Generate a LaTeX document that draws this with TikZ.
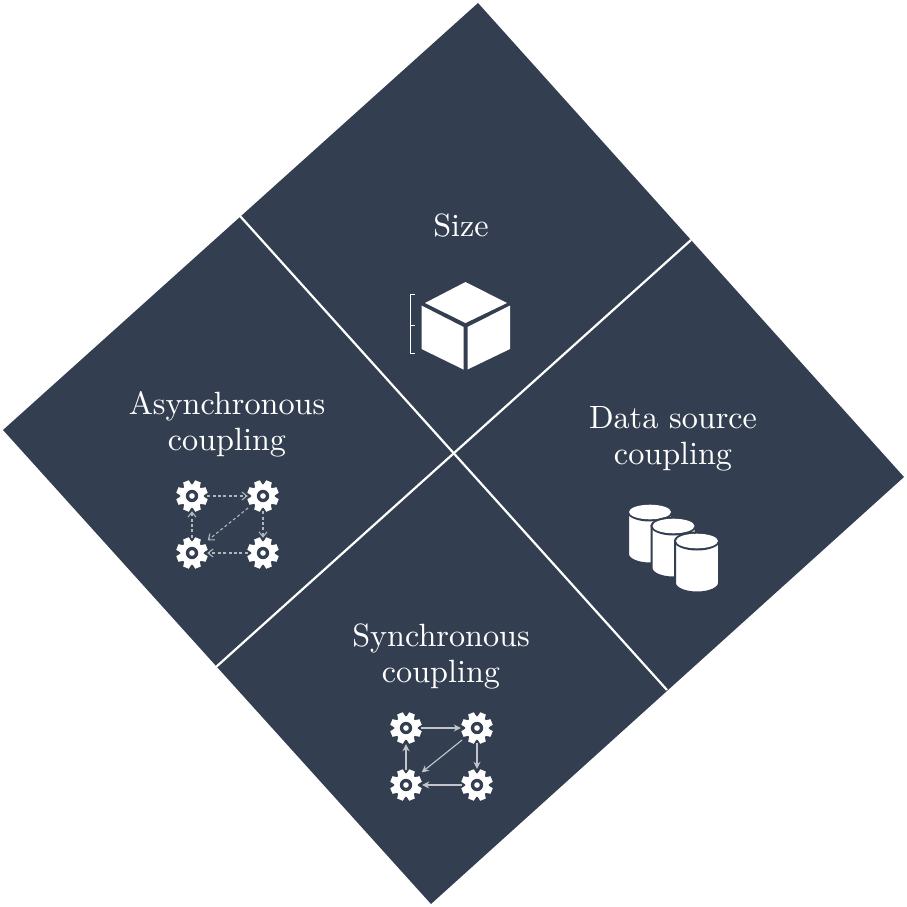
\documentclass[tikz,border=0pt]{standalone}
\usetikzlibrary{arrows.meta}
\definecolor{navy}{HTML}{333F50}
\font\lblfont="[lmroman10-regular]" at 32.2pt
\newcommand{\lblstyle}{\lblfont\setlength{\baselineskip}{36pt}}
\tikzset{x=1pt,y=-1pt,
 panel/.style={fill=navy,draw=none},
 divider/.style={draw=white,line width=2.2pt},
 label/.style={text=white,align=center,font=\lblstyle,inner sep=0pt},
 icon/.style={fill=white,draw=none},
 syncarrow/.style={draw=white!70!navy,line width=1.4pt,-{Stealth[length=7pt,width=7pt]},shorten >=1pt},
 asyncarrow/.style={draw=white!62!navy,line width=1.1pt,dash pattern=on 3pt off 2.4pt,-{Straight Barb[length=5pt,width=8pt]}},
 diagonal/.style={shorten <=4pt,shorten >=5pt},
 gearnode/.style={circle,minimum size=30pt,inner sep=0pt,draw=none},
}
\newcommand{\gearat}[2]{%
 \begin{scope}[shift={(#1,#2)}]
  \fill[white] (0,0) circle (11.8);
  \foreach \a in {0,45,...,315}{\fill[white,rotate=\a+22.5] (-4,-10) -- (-3,-15.8) -- (3,-15.8) -- (4,-10) -- cycle;}
  \fill[navy] (0,0) circle (6.2);
  \fill[white] (0,0) circle (2.8);
 \end{scope}}
\newcommand{\drum}[2]{%
 \begin{scope}[shift={(#1,#2)}]
  \filldraw[white,draw=navy,line width=2pt] (-22,0) -- (-22,42) arc[start angle=180,end angle=0,x radius=22,y radius=9.5] -- (22,0) -- cycle;
  \fill[navy] (0,0) ellipse (23 and 9.5);
  \fill[white] (0,0) ellipse (21 and 7.3);
 \end{scope}}
\begin{document}
\begin{tikzpicture}
\useasboundingbox (0,0) rectangle (907,907);
\coordinate (T) at (478,3);
\coordinate (R) at (904,477);
\coordinate (B) at (431,904);
\coordinate (L) at (3,430);
\coordinate (C) at (453,453);
\coordinate (TL) at (240,216);
\coordinate (TR) at (691,240);
\coordinate (BL) at (216,667);
\coordinate (BR) at (667,690);
\fill[panel] (T) -- (R) -- (B) -- (L) -- cycle;
\draw[divider] (TL) -- (BR);
\draw[divider] (BL) -- (TR);
\node[label] (size) at (461,226) {Size};
\node[label] (async) at (227,424) {Asynchronous\\coupling};
\node[label] (data) at (673,438.5) {Data source\\coupling};
\node[label] (sync) at (441,656) {Synchronous\\coupling};
% cube
\fill[icon] (465.5,282) -- (507,303) -- (465.5,323) -- (425,303) -- cycle;
\fill[icon] (421.5,305.5) -- (463.5,327) -- (463.5,369.5) -- (421.5,349) -- cycle;
\fill[icon] (467.5,327) -- (510,305.5) -- (510,349) -- (467.5,369.5) -- cycle;
\draw[white,line width=1pt] (415,294) -- (410,294) -- (410,353) -- (415,353) (410,325) -- (415,325);
% drums
\drum{650}{512}
\drum{673.5}{526}
\drum{697}{541}
% async gears
\gearat{192}{496}\gearat{263}{496}\gearat{192}{553}\gearat{263}{553}
\node[gearnode] (a1) at (192,496) {};
\node[gearnode] (a2) at (263,496) {};
\node[gearnode] (a3) at (192,553) {};
\node[gearnode] (a4) at (263,553) {};
\draw[asyncarrow] (a1) -- (a2);
\draw[asyncarrow] (a2) -- (a4);
\draw[asyncarrow] (a4) -- (a3);
\draw[asyncarrow] (a3) -- (a1);
\draw[asyncarrow,diagonal] (a2) -- (a3);
% sync gears
\gearat{406}{728}\gearat{477}{728}\gearat{406}{785}\gearat{477}{785}
\node[gearnode] (s1) at (406,728) {};
\node[gearnode] (s2) at (477,728) {};
\node[gearnode] (s3) at (406,785) {};
\node[gearnode] (s4) at (477,785) {};
\draw[syncarrow] (s1) -- (s2);
\draw[syncarrow] (s2) -- (s4);
\draw[syncarrow] (s4) -- (s3);
\draw[syncarrow] (s3) -- (s1);
\draw[syncarrow,diagonal,line width=1.1pt] (s2) -- (s3);
\end{tikzpicture}
\end{document}
